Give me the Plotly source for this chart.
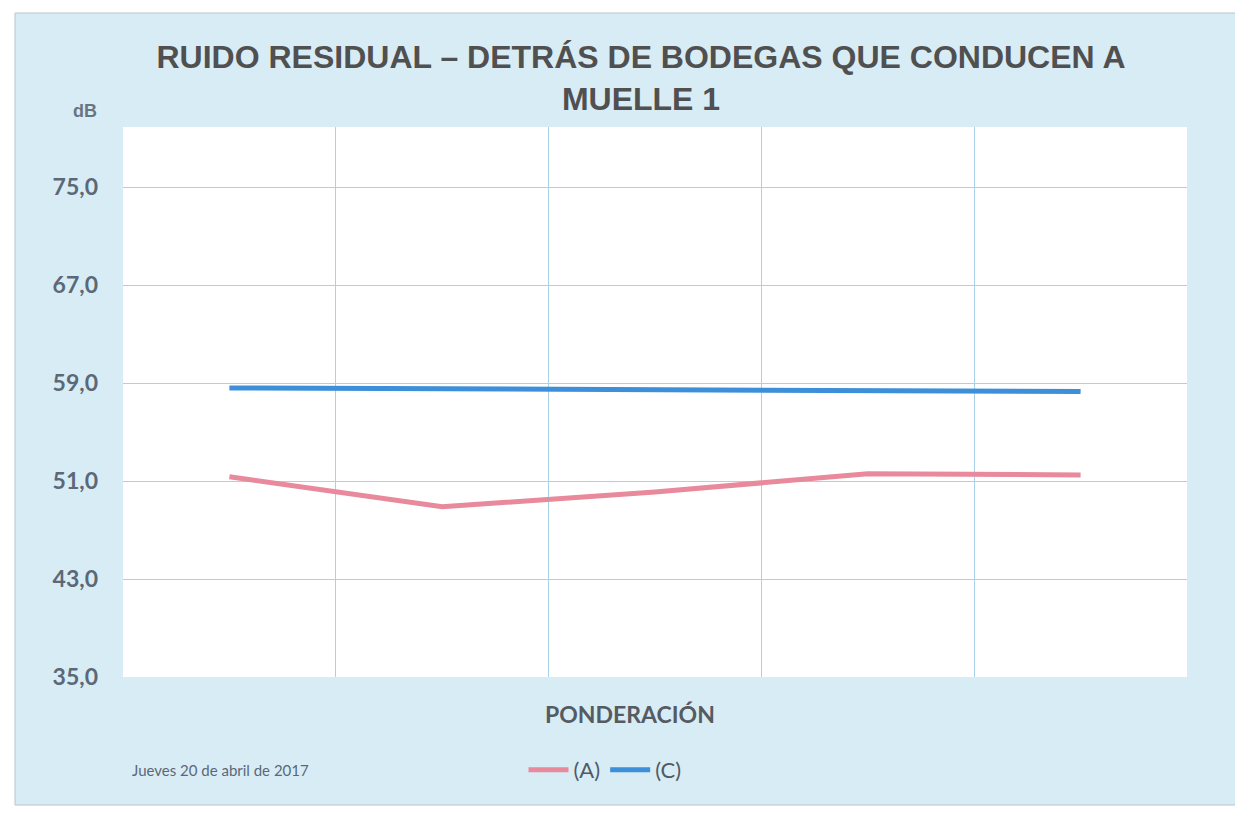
import plotly.graph_objects as go

# ---- data ----
categories = [1, 2, 3, 4, 5]
serie_a = [51.35, 48.9, 50.1, 51.6, 51.5]   # (A)
serie_c = [58.6, 58.5, 58.4, 58.3, 58.3]    # (C)
y_ticks = [35, 43, 51, 59, 67, 75]
y_tick_labels = ["35,0", "43,0", "51,0", "59,0", "67,0", "75,0"]
series_names = ["(A)", "(C)"]

OFF = 8  # default page body margin
W, H = 1243 - OFF, 814 - OFF
# target plot area in window pixels
L, R, T, B = 123, 1187, 127, 677
Lf, Rf, Tf, Bf = L - OFF, R - OFF, T - OFF, B - OFF

fig = go.Figure()
fig.add_trace(go.Scatter(x=categories, y=serie_a, mode="lines", name=series_names[0],
                         line=dict(color="#e8899c", width=5)))
fig.add_trace(go.Scatter(x=categories, y=serie_c, mode="lines", name=series_names[1],
                         line=dict(color="#3c8fd8", width=5)))

pw, ph = R - L, B - T
def px(x):
    return (x - L) / pw
def py(y):
    return (B - y) / ph

fig.update_layout(
    width=W, height=H,
    margin=dict(l=Lf, r=W - Rf, t=Tf, b=H - Bf, pad=0),
    paper_bgcolor="#ffffff",
    plot_bgcolor="#ffffff",
    title=dict(text="<b>RUIDO RESIDUAL – DETRÁS DE BODEGAS QUE CONDUCEN A<br>MUELLE 1</b>",
               font=dict(family="Liberation Sans", size=32, color="#505050"),
               x=(641 - OFF) / W, xanchor="center", yref="container",
               y=1 - (68 - OFF) / H, yanchor="top"),
    xaxis=dict(range=[0.5, 5.5], tick0=0.5, dtick=1, showticklabels=False,
               showgrid=True, gridcolor="#a9d1e8", gridwidth=1, zeroline=False,
               showline=False, ticks=""),
    yaxis=dict(range=[35, 79.9], tickvals=y_ticks, ticktext=y_tick_labels,
               showgrid=True, gridcolor="#a9d1e8", gridwidth=1, zeroline=False,
               showline=False, ticks="", ticklabelstandoff=24,
               tickfont=dict(family="Lato", size=23, color="#5b6877", weight="bold")),
    showlegend=True,
    legend=dict(orientation="h", x=px(605), xanchor="center", y=py(770), yanchor="middle",
                bgcolor="rgba(0,0,0,0)", font=dict(family="Lato", size=22, color="#4f5a66"),
                itemwidth=40, tracegroupgap=0),
    shapes=[
        dict(type="rect", xref="paper", yref="paper", layer="below",
             x0=px(15), x1=px(1238), y0=py(805), y1=py(13),
             fillcolor="#d8ecf6", line=dict(color="#b8c4cc", width=1)),
        dict(type="rect", xref="paper", yref="paper", layer="below",
             x0=0, x1=1, y0=0, y1=1, fillcolor="#ffffff", line=dict(width=0)),
    ],
    annotations=[
        dict(text="<b>dB</b>", x=px(85), y=py(111), xref="paper", yref="paper",
             showarrow=False, xanchor="center", yanchor="middle",
             font=dict(family="Liberation Sans", size=18, color="#6a7580")),
        dict(text="<b>PONDERACIÓN</b>", x=px(630), y=py(714), xref="paper", yref="paper",
             showarrow=False, xanchor="center", yanchor="middle",
             font=dict(family="Lato", size=23, color="#555b61")),
        dict(text="Jueves 20 de abril de 2017", x=px(130), y=py(770), xref="paper", yref="paper",
             showarrow=False, xanchor="left", yanchor="middle",
             font=dict(family="Lato", size=15, color="#5b6877")),
    ],
)

fig.write_html("out.html")
